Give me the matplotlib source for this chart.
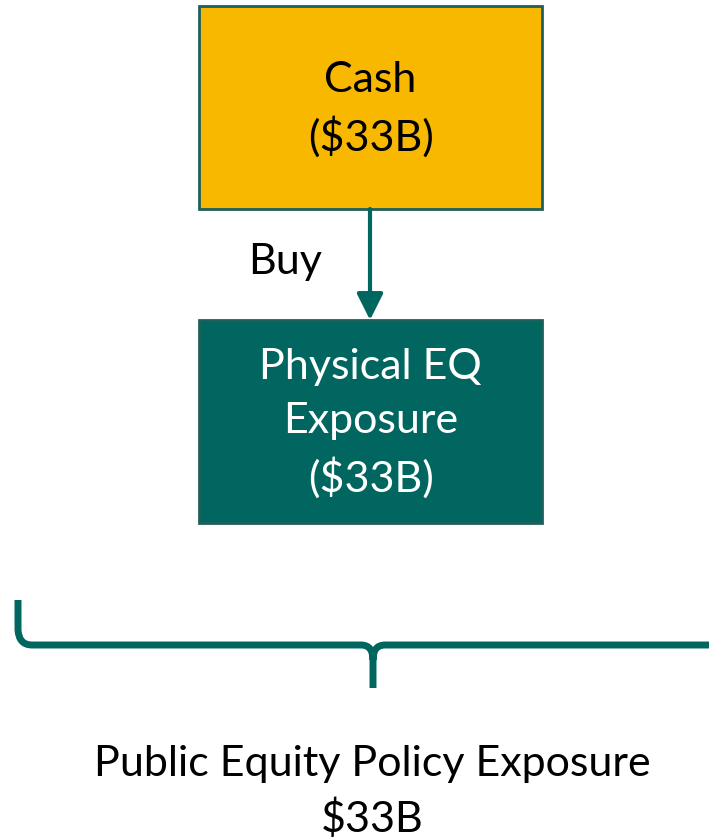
import matplotlib.pyplot as plt
from matplotlib.patches import Rectangle, FancyArrowPatch, PathPatch
from matplotlib.path import Path

# diagram content
box_labels = ["Cash", "Physical EQ\nExposure"]
box_values = [33, 33]          # $B
arrow_label = "Buy"
total_label = "Public Equity Policy Exposure"
total_value = 33               # $B

teal = "#00665F"
gold = "#F9B800"
edge = "#1F5F5B"

plt.rcParams['font.family'] = ['Lato', 'DejaVu Sans']

fig = plt.figure(figsize=(7.09, 8.4), dpi=100)
ax = fig.add_axes([0, 0, 1, 1])
ax.set_xlim(0, 709)
ax.set_ylim(840, 0)
ax.axis('off')

# boxes (pixel layout)
boxes = [(199, 6, 343, 203), (199, 320, 343, 203)]
fills = [gold, teal]
txt_cols = ["black", "white"]
for (x, y, w, h), fc, tc, lab, val in zip(boxes, fills, txt_cols, box_labels, box_values):
    ax.add_patch(Rectangle((x, y), w, h, facecolor=fc, edgecolor=edge, lw=2))
    ax.text(x + w / 2, y + h / 2 + 2, f"{lab}\n(${val}B)", ha='center', va='center',
            color=tc, fontsize=31, linespacing=1.5)

# arrow Cash -> Physical
arr = FancyArrowPatch((370, 209), (370, 320), arrowstyle='-|>,head_length=10,head_width=5',
                      color=teal, lw=3, shrinkA=0, shrinkB=0, mutation_scale=1.6)
ax.add_patch(arr)
ax.text(248, 262, arrow_label, ha='left', va='center', fontsize=31)

# brace under the boxes
mid = 373
top, line_y, tip = 600, 645, 688
verts = [(18, top), (18, 630), (19, line_y), (32, line_y),
         (mid - 12, line_y), (mid, line_y), (mid, 660), (mid, tip),
         (mid, 660), (mid, line_y), (mid + 12, line_y), (720, line_y)]
codes = [Path.MOVETO, Path.LINETO, Path.CURVE3, Path.CURVE3,
         Path.LINETO, Path.CURVE3, Path.CURVE3, Path.LINETO,
         Path.MOVETO, Path.CURVE3, Path.CURVE3, Path.LINETO]
ax.add_patch(PathPatch(Path(verts, codes), facecolor='none', edgecolor=teal,
                       lw=5, capstyle='butt', joinstyle='round'))

ax.text(372, 792, f"{total_label}\n${total_value}B", ha='center', va='center',
        fontsize=31, linespacing=1.45)

fig.savefig("out.png", dpi=100)
